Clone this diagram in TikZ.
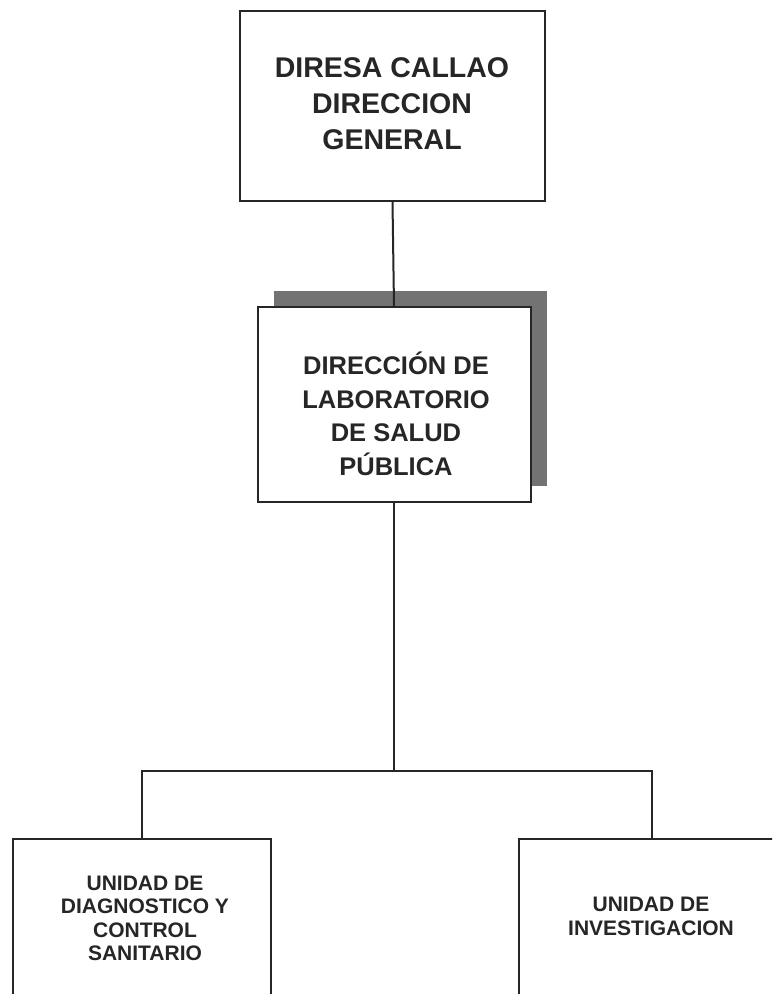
\documentclass[tikz,border=0pt]{standalone}
\usepackage{fontspec}
\setmainfont{Liberation Sans}
\usetikzlibrary{shadows}
\tikzset{
  box/.style={draw=black!85, line width=2pt, fill=white, rectangle, inner sep=0pt},
  conn/.style={draw=black!85, line width=2pt},
  lbl/.style={align=center, font=\bfseries, text=black!85, inner sep=0pt},
}
\begin{document}
\begin{tikzpicture}[x=1pt,y=-1pt]
\clip (0,0) rectangle (772,994);
\fill[white] (0,0) rectangle (772,994);
% boxes
\node[box, minimum width=305pt, minimum height=190pt] (top) at (392.5,106) {};
\node[box, minimum width=273pt, minimum height=195pt,
      general shadow={fill=black!55, shadow xshift=16pt, shadow yshift=16pt}] (mid) at (394,404.5) {};
\node[box, minimum width=258pt, minimum height=200pt, anchor=north] (left) at (142,838) {};
\node[box, minimum width=266pt, minimum height=200pt, anchor=north] (right) at (652,838) {};
% texts
\node[lbl, font=\fontsize{28.5}{36}\selectfont\bfseries] (ttop) at (392,103.5)
  {DIRESA CALLAO\\DIRECCION\\GENERAL};
\node[lbl, font=\fontsize{25.5}{33.5}\selectfont\bfseries] (tmid) at (396,414)
  {DIRECCIÓN DE\\LABORATORIO\\DE SALUD\\PÚBLICA};
\node[lbl, font=\fontsize{21}{23.3}\selectfont\bfseries] (tleft) at (145,918.5)
  {UNIDAD DE\\DIAGNOSTICO Y\\CONTROL\\SANITARIO};
\node[lbl, font=\fontsize{21}{24}\selectfont\bfseries] (tright) at (651,916.5)
  {UNIDAD DE\\INVESTIGACION};
% connectors
\coordinate (bus) at (398,771);
\draw[conn] (top.south) -- (mid.north);
\draw[conn] (mid.south) -- (mid.south |- bus);
\draw[conn] (left.north) |- (bus) -| (right.north);
\end{tikzpicture}
\end{document}
